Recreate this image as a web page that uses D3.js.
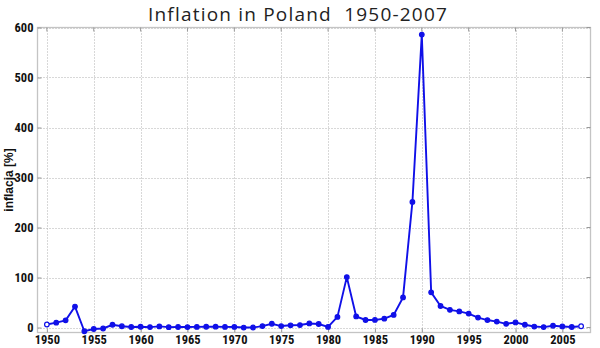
<!DOCTYPE html>
<html><head><meta charset="utf-8">
<script src="https://cdn.jsdelivr.net/npm/d3@7/dist/d3.min.js"></script>
<style>
body{margin:0;background:#fff;}
svg{display:block;}
</style></head>
<body>
<svg id="chart" width="600" height="348"></svg>
<script>
const years = d3.range(1950, 2008);
const inflation = [
  6.0, 9.7, 14.3, 41.9, -7.5, -3.0, -2.0, 5.5, 2.5, 1.0,
  1.5, 0.8, 2.2, 0.7, 1.0, 0.9, 1.2, 1.5, 1.6, 1.2,
  1.1, -0.1, 0.0, 2.8, 7.5, 2.9, 4.4, 4.9, 8.1, 7.0,
  1.2, 21.2, 100.8, 22.1, 15.0, 15.1, 17.7, 25.2, 60.2, 251.1,
  585.8, 70.3, 43.0, 35.3, 32.2, 27.8, 19.9, 14.9, 11.8, 7.3,
  10.1, 5.5, 1.9, 0.8, 3.5, 2.1, 1.0, 2.5
];
const xTicks = [1950,1955,1960,1965,1970,1975,1980,1985,1990,1995,2000,2005];
const yTicks = [0,100,200,300,400,500,600];
const title = "Inflation in Poland  1950-2007";
const yLabel = "inflacja [%]";

const data = years.map((y,i)=>({year:y, v:inflation[i]}));
const svg = d3.select("#chart");
const L=37.5, R=590.5, T=27.5, B=332.5;
const x = d3.scaleLinear().domain([1949,2008]).range([L,R]);
const y = d3.scaleLinear().domain([-10,600]).range([B,T]);

// grid
const grid = svg.append("g");
xTicks.forEach(t=>{
  grid.append("line").attr("x1",Math.round(x(t))+0.5).attr("x2",Math.round(x(t))+0.5)
   .attr("y1",T).attr("y2",B).attr("stroke","#b0b0b0").attr("stroke-width",1).attr("stroke-dasharray","1,2");
});
yTicks.forEach(t=>{
  grid.append("line").attr("y1",Math.round(y(t))+0.5).attr("y2",Math.round(y(t))+0.5)
   .attr("x1",L).attr("x2",R).attr("stroke","#b0b0b0").attr("stroke-width",1).attr("stroke-dasharray","1,2");
});

// box
svg.append("rect").attr("x",L).attr("y",T).attr("width",R-L).attr("height",B-T)
  .attr("fill","none").attr("stroke","#c4c4c4").attr("stroke-width",1.3);

// axes
const xAxis = d3.axisBottom(x).tickValues(xTicks).tickFormat(d3.format("d")).tickSizeInner(-4).tickSizeOuter(0).tickPadding(5);
const gx = svg.append("g").attr("transform",`translate(0,${B})`).call(xAxis);
const yAxis = d3.axisLeft(y).tickValues(yTicks).tickFormat(d3.format("d")).tickSizeInner(-4).tickSizeOuter(0).tickPadding(4);
const gy = svg.append("g").attr("transform",`translate(${L},0)`).call(yAxis);
[gx,gy].forEach(g=>{
  g.select(".domain").remove();
  g.selectAll(".tick line").attr("stroke","#999");
  g.selectAll(".tick text").attr("fill","#111")
   .style("font-family","'Liberation Sans Narrow','Roboto Condensed','Liberation Sans',Arial,sans-serif")
   .style("font-size","12.5px").style("font-weight","bold");
});
gx.selectAll(".tick text").attr("dy","0.55em");
gx.selectAll(".tick line").attr("y2",-4);
gy.selectAll(".tick line").attr("x2",4);
xTicks.forEach(t=>{
  svg.append("line").attr("x1",x(t)).attr("x2",x(t)).attr("y1",T).attr("y2",T+4).attr("stroke","#999");
});
yTicks.forEach(t=>{
  svg.append("line").attr("x1",R).attr("x2",R-4).attr("y1",y(t)).attr("y2",y(t)).attr("stroke","#999");
});

// line
const line = d3.line().x(d=>x(d.year)).y(d=>y(d.v));
svg.append("path").datum(data).attr("d",line).attr("fill","none")
  .attr("stroke","#1010e8").attr("stroke-width",1.9);
svg.selectAll("circle.pt").data(data).enter().append("circle").attr("class","pt")
  .attr("cx",d=>x(d.year)).attr("cy",d=>y(d.v)).attr("r",2.3)
  .attr("fill",(d,i)=> (i===0||i===data.length-1)?"#fff":"#1010e8")
  .attr("stroke","#1010e8").attr("stroke-width",1.2);

// title
svg.append("text").attr("x",298).attr("y",21).attr("text-anchor","middle")
  .attr("xml:space","preserve").style("white-space","pre")
  .style("font-family","'Open Sans','DejaVu Sans',sans-serif").style("font-size","19px")
  .style("letter-spacing","1.2px").attr("fill","#222").text(title);

// y label
svg.append("text").attr("transform",`translate(13,${(T+B)/2}) rotate(-90)`).attr("text-anchor","middle")
  .style("font-family","'Liberation Sans Narrow','Liberation Sans',Arial,sans-serif").style("font-size","12px")
  .style("font-weight","bold").attr("fill","#111").text(yLabel);
</script>
</body></html>
